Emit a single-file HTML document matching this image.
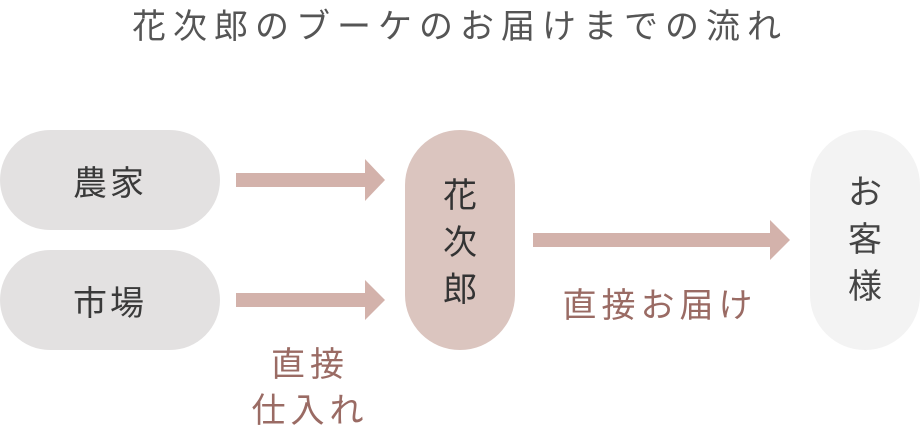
<!DOCTYPE html>
<html><head><meta charset="utf-8"><style>
body{margin:0;width:920px;height:437px;background:#fff;position:relative;overflow:hidden;font-family:"Liberation Sans","Noto Sans CJK JP",sans-serif}
.a{position:absolute}
.pill{position:absolute;display:flex;align-items:center;justify-content:center;color:#3a3a3a;font-size:34px;letter-spacing:3px}
.t{position:absolute;white-space:nowrap}
</style></head><body>
<div class="t" style="left:0;width:920px;text-align:center;top:-1px;font-size:34px;color:#555;letter-spacing:7px">花次郎のブーケのお届けまでの流れ</div>
<div class="pill" style="left:0;top:130px;width:220px;height:100px;border-radius:50px;background:#e3e1e1">農家</div>
<div class="pill" style="left:0;top:250px;width:220px;height:100px;border-radius:50px;background:#e3e1e1">市場</div>
<div class="pill" style="left:405px;top:130px;width:110px;height:220px;border-radius:55px;background:#dbc5bf;flex-direction:column;line-height:47px;font-size:34px;color:#333;letter-spacing:0;padding-top:6px;box-sizing:border-box">花<br>次<br>郎</div>
<div class="pill" style="left:810px;top:130px;width:110px;height:220px;border-radius:55px;background:#f3f3f3;flex-direction:column;line-height:47px;font-size:34px;color:#444;letter-spacing:0">お<br>客<br>様</div>
<svg class="a" style="left:0;top:0" width="920" height="437">
<g fill="#d3b2ab">
<rect x="236" y="173" width="130" height="14"/><polygon points="365,159 385,180 365,201"/>
<rect x="236" y="293" width="130" height="14"/><polygon points="365,280 385,300 365,320"/>
<rect x="533" y="233" width="240" height="14"/><polygon points="770,220 790,240 770,260"/>
</g></svg>
<div class="t" style="left:550px;width:220px;text-align:center;top:278px;font-size:34px;color:#9a6b64;letter-spacing:5px">直接お届け</div>
<div class="t" style="left:230px;width:160px;text-align:center;top:342px;font-size:34px;line-height:46px;color:#9a6b64;letter-spacing:5px">直接<br>仕入れ</div>
</body></html>
